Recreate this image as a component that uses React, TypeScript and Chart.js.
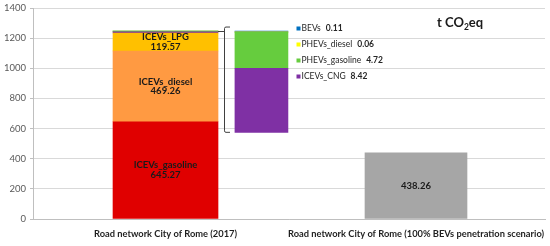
import React, { useEffect, useRef } from 'react';
import { Chart, registerables } from 'chart.js';

Chart.register(...registerables);

// ---------- data ----------
const categories = [
  'Road network City of Rome (2017)',
  'Road network City of Rome (100% BEVs penetration scenario)',
];
const categoryPositions = [0, 1];

const seriesNames = ['ICEVs_gasoline', 'ICEVs_diesel', 'ICEVs_LPG', 'ICEVs_CNG', 'PHEVs_gasoline', 'PHEVs_diesel', 'BEVs'];
const series2017 = [645.27, 469.26, 119.57, 8.42, 4.72, 0.06, 0.11];
const seriesColors = ['#E00000', '#FF9A42', '#FFC000', '#7F30A4', '#66CC3E', '#FFFF00', '#0070C0'];
const inBarLabelMode = ['name+value', 'name+value', 'name+value', null, null, null, null];

const scenarioValue = 438.26;
const scenarioColor = '#A6A6A6';

// magnified detail of the small contributions
const zoomSeries = ['ICEVs_CNG', 'PHEVs_gasoline', 'PHEVs_diesel', 'BEVs'];
const zoomPosition = 0.383;
const zoomBase = 575;
const zoomFactor = 50.5;

const legendOrder = ['BEVs', 'PHEVs_diesel', 'PHEVs_gasoline', 'ICEVs_CNG'];

const yMin = 0;
const yMax = 1400;
const yStep = 200;
const xRange = [-0.529, 1.515];

const FONT = 'Lato';

// ---------- plugins ----------
const inBarLabels = {
  id: 'inBarLabels',
  afterDatasetsDraw(chart: any) {
    const ctx = chart.ctx;
    ctx.save();
    ctx.fillStyle = '#1A1A1A';
    ctx.textAlign = 'center';
    ctx.textBaseline = 'middle';
    ctx.font = `bold 9.5px ${FONT}`;
    chart.data.datasets.forEach((ds: any, i: number) => {
      if (!ds.inLabel) return;
      const el = chart.getDatasetMeta(i).data[0];
      if (!el) return;
      const cx = el.x;
      const cy = (el.y + el.base) / 2;
      const val = ds.data[0].y.toFixed(2);
      if (ds.inLabel === 'name+value') {
        ctx.fillText(ds.label, cx, cy - 4.8);
        ctx.fillText(val, cx, cy + 4.8);
      } else {
        ctx.fillText(val, cx, cy);
      }
    });
    ctx.restore();
  },
};

const bracketPlugin = {
  id: 'bracket',
  afterDatasetsDraw(chart: any) {
    const ds = chart.data.datasets;
    const topMain = ds.findIndex((d: any) => d.role === 'main' && d.label === 'BEVs');
    const zoomTop = ds.findIndex((d: any) => d.role === 'zoom' && d.label === 'BEVs');
    const spacer = ds.findIndex((d: any) => d.role === 'spacer');
    const m = chart.getDatasetMeta(topMain).data[0];
    const z = chart.getDatasetMeta(zoomTop).data[0];
    const s = chart.getDatasetMeta(spacer).data[0];
    if (!m || !z || !s) return;
    const ctx = chart.ctx;
    const mainRight = m.x + m.width / 2;
    const bx = Math.round(mainRight + 6) + 0.5;
    const top = z.y - 4;
    const bottom = s.y;
    ctx.save();
    ctx.strokeStyle = '#404040';
    ctx.lineWidth = 1;
    ctx.beginPath();
    ctx.moveTo(mainRight, Math.round(m.y) + 0.5);
    ctx.lineTo(bx, Math.round(m.y) + 0.5);
    ctx.moveTo(bx + 5.5, top);
    ctx.lineTo(bx + 1.5, top);
    ctx.quadraticCurveTo(bx, top, bx, top + 1.5);
    ctx.lineTo(bx, bottom - 1.5);
    ctx.quadraticCurveTo(bx, bottom, bx + 1.5, bottom);
    ctx.lineTo(bx + 5.5, bottom);
    ctx.stroke();
    ctx.restore();
  },
};

const legendPlugin = {
  id: 'customLegend',
  afterDraw(chart: any) {
    const ctx = chart.ctx;
    const x0 = 296.5;
    const y0 = 28.5;
    const rowH = 16;
    ctx.save();
    ctx.textBaseline = 'middle';
    ctx.textAlign = 'left';
    legendOrder.forEach((name, r) => {
      const idx = seriesNames.indexOf(name);
      const y = y0 + r * rowH;
      ctx.fillStyle = seriesColors[idx];
      ctx.fillRect(x0, y - 2, 4, 4);
      ctx.fillStyle = '#262626';
      ctx.font = `8.5px ${FONT}`;
      ctx.fillText(name, x0 + 5, y);
      const w = ctx.measureText(name).width;
      ctx.font = `bold 8.5px ${FONT}`;
      ctx.fillText(series2017[idx].toFixed(2), x0 + 5 + w + 5, y);
    });
    ctx.restore();
  },
};

const unitTitle = {
  id: 'unitTitle',
  afterDraw(chart: any) {
    const ctx = chart.ctx;
    ctx.save();
    ctx.fillStyle = '#1A1A1A';
    ctx.textBaseline = 'alphabetic';
    ctx.textAlign = 'left';
    let x = 437;
    const base = 27;
    ctx.font = `bold 13px ${FONT}`;
    ctx.fillText('t CO', x, base);
    x += ctx.measureText('t CO').width;
    ctx.font = `bold 8.5px ${FONT}`;
    ctx.fillText('2', x, base + 2.5);
    x += ctx.measureText('2').width;
    ctx.font = `bold 13px ${FONT}`;
    ctx.fillText('eq', x, base);
    ctx.restore();
  },
};

export default function App() {
  const ref = useRef<HTMLCanvasElement>(null);

  useEffect(() => {
    if (!ref.current) return;
    const datasets: any[] = [];
    seriesNames.forEach((name, i) => {
      datasets.push({
        label: name,
        role: 'main',
        data: [{ x: categoryPositions[0], y: series2017[i] }],
        backgroundColor: seriesColors[i],
        barThickness: 105,
        grouped: false,
        stack: 'main',
        inLabel: inBarLabelMode[i],
      });
    });
    datasets.push({
      label: 'BEVs scenario',
      role: 'scenario',
      data: [{ x: categoryPositions[1], y: scenarioValue }],
      backgroundColor: scenarioColor,
      barThickness: 102,
      grouped: false,
      stack: 'scenario',
      inLabel: 'value',
    });
    datasets.push({
      label: 'spacer',
      role: 'spacer',
      data: [{ x: zoomPosition, y: zoomBase }],
      backgroundColor: 'rgba(0,0,0,0)',
      barThickness: 53,
      grouped: false,
      stack: 'zoom',
    });
    zoomSeries.forEach((name) => {
      const idx = seriesNames.indexOf(name);
      datasets.push({
        label: name,
        role: 'zoom',
        data: [{ x: zoomPosition, y: series2017[idx] * zoomFactor }],
        backgroundColor: seriesColors[idx],
        barThickness: 53,
        grouped: false,
        stack: 'zoom',
      });
    });

    const chart = new Chart(ref.current, {
      type: 'bar',
      data: { datasets },
      options: {
        animation: false,
        responsive: false,
        maintainAspectRatio: false,
        layout: { padding: { left: 0, right: 5, top: 8, bottom: 0 } },
        plugins: {
          legend: { display: false },
          tooltip: { enabled: false },
          title: { display: false },
        },
        scales: {
          x: {
            type: 'linear',
            offset: false,
            min: xRange[0],
            max: xRange[1],
            afterBuildTicks: (scale: any) => {
              scale.ticks = categoryPositions.map((v) => ({ value: v }));
            },
            ticks: {
              autoSkip: false,
              maxRotation: 0,
              minRotation: 0,
              padding: 9,
              color: '#1F1F1F',
              font: { family: FONT, size: 9.3, weight: 'bold' },
              callback: (v: any) => {
                const i = categoryPositions.indexOf(Number(v));
                return i >= 0 ? categories[i] : '';
              },
            },
            grid: { display: false, drawTicks: false, offset: false },
            border: { display: true, color: '#BFBFBF' },
            afterFit: (scale: any) => {
              scale.height = 27;
              scale.paddingLeft = 0;
              scale.paddingRight = 0;
            },
          },
          y: {
            stacked: true,
            min: yMin,
            max: yMax,
            ticks: {
              stepSize: yStep,
              padding: 4,
              color: '#595959',
              font: { family: FONT, size: 9.5 },
              callback: (v: any) => String(v),
            },
            grid: { color: '#D9D9D9', tickColor: '#BFBFBF', tickLength: 3 },
            border: { display: true, color: '#BFBFBF' },
            afterFit: (scale: any) => {
              scale.width = 33;
              scale.paddingTop = 0;
              scale.paddingBottom = 0;
            },
          },
        },
      } as any,
      plugins: [inBarLabels, bracketPlugin, legendPlugin, unitTitle],
    });
    return () => chart.destroy();
  }, []);

  return (
    <div style={{ position: 'fixed', left: 0, top: 0, width: 550, height: 246, background: '#fff' }}>
      <canvas ref={ref} width={550} height={246} style={{ width: 550, height: 246, display: 'block' }} />
    </div>
  );
}
